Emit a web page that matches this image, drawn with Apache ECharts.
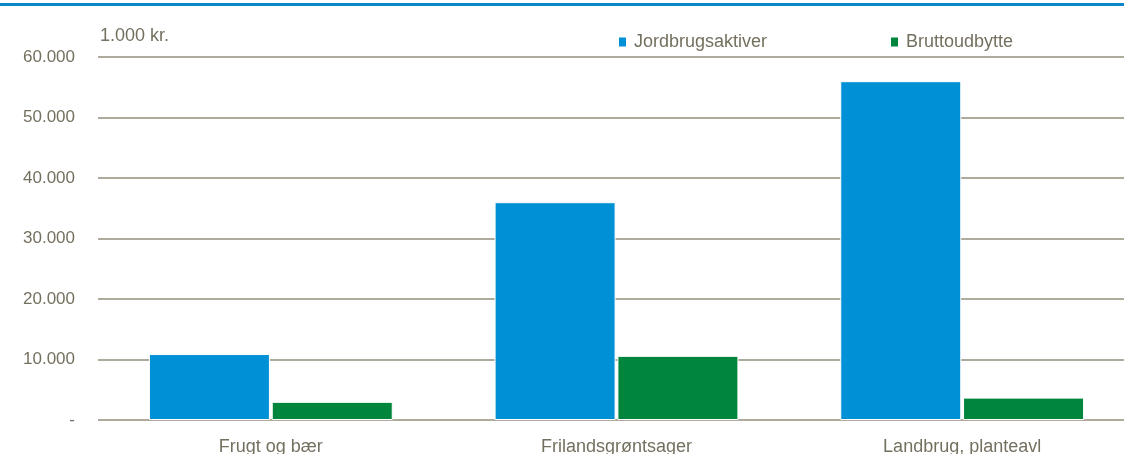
<!doctype html>
<html>
<head>
<meta charset="utf-8">
<title>Jordbrugsaktiver og bruttoudbytte</title>
<script src="https://cdn.jsdelivr.net/npm/echarts@6/dist/echarts.min.js"></script>
<style>
  html, body { margin: 0; padding: 0; background: #fff; }
  #chart { width: 1124px; height: 454px; }
</style>
</head>
<body>
<div id="chart"></div>
<script>
// data (1.000 kr.)
var categories = ['Frugt og bær', 'Frilandsgrøntsager', 'Landbrug, planteavl'];
var aktiver = [10900, 36000, 56000];
var udbytte = [3000, 10600, 3700];
var yTicks = [0, 10000, 20000, 30000, 40000, 50000, 60000];

var font = "'Liberation Sans Narrow', 'Arial Narrow', 'Liberation Sans', sans-serif";
var txt = '#74705f';

function fmt(v) {
    if (v === 0) return '-';
    return String(v).replace(/\B(?=(\d{3})+(?!\d))/g, '.');
}

var myChart = echarts.init(document.getElementById('chart'));
var option = {
    animation: false,
    textStyle: { fontFamily: font },
    // plot area runs past the right edge, like the source
    grid: { left: 98, width: 1037, top: 57, height: 363, outerBoundsMode: 'none' },
    graphic: [
        { type: 'rect', shape: { x: 0, y: 3, width: 1124, height: 3 }, style: { fill: '#0a87c9' } },
        { type: 'text', left: 100, top: 27, style: { text: '1.000 kr.', fill: txt, font: '18px ' + font } }
    ],
    legend: [
        { data: ['Jordbrugsaktiver'], left: 612, top: 28, icon: 'rect', itemWidth: 9, itemHeight: 11, itemGap: 0,
          textStyle: { color: txt, fontSize: 18, fontFamily: font, padding: [0, 0, 0, 2] } },
        { data: ['Bruttoudbytte'], left: 884, top: 28, icon: 'rect', itemWidth: 9, itemHeight: 11, itemGap: 0,
          textStyle: { color: txt, fontSize: 18, fontFamily: font, padding: [0, 0, 0, 2] } }
    ],
    xAxis: {
        type: 'category',
        data: categories,
        axisLine: { show: false },
        axisTick: { show: false },
        axisLabel: { color: txt, fontSize: 18, fontFamily: font, margin: 18 }
    },
    yAxis: {
        type: 'value',
        min: yTicks[0],
        max: yTicks[yTicks.length - 1],
        interval: 10000,
        axisLine: { show: false },
        axisTick: { show: false },
        splitLine: { lineStyle: { color: '#aeaa9c', width: 2 } },
        axisLabel: { color: txt, fontSize: 17, fontFamily: font, margin: 23, formatter: fmt }
    },
    series: [
        { name: 'Jordbrugsaktiver', type: 'bar', data: aktiver, barWidth: 121, barGap: '1.5%',
          itemStyle: { color: '#0090d6', borderColor: '#fff', borderWidth: 1 } },
        { name: 'Bruttoudbytte', type: 'bar', data: udbytte, barWidth: 121,
          itemStyle: { color: '#00853d', borderColor: '#fff', borderWidth: 1 } }
    ]
};
myChart.setOption(option);
</script>
</body>
</html>
